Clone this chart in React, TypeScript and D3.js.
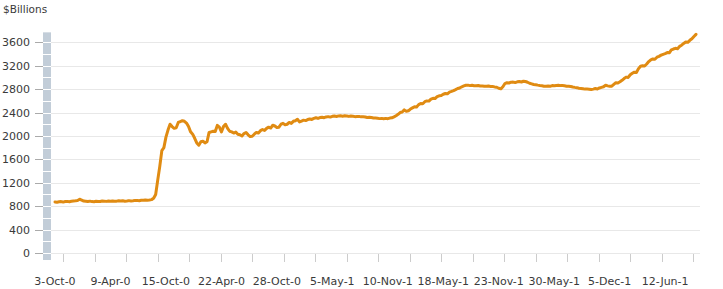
import React from "react";
import * as d3 from "d3";

const W = 723;
const H = 289;

// Weekly values ($ billions), 3-Oct-07 onward, one block per labelled 27-week period
const period07 = [872, 868, 875, 878, 870, 880, 882, 876, 885, 890, 893, 898, 918, 905, 888, 884, 880, 886, 878, 876, 884, 882, 879, 887, 886, 882, 888];
const period08a = [885, 890, 884, 886, 892, 887, 891, 886, 890, 895, 890, 894, 899, 899, 894, 902, 900, 906, 903, 905, 912, 935, 1000, 1245, 1480, 1750, 1800];
const period08b = [1980, 2100, 2200, 2160, 2130, 2140, 2230, 2245, 2260, 2250, 2220, 2160, 2070, 2030, 1960, 1880, 1843, 1900, 1910, 1880, 1900, 2060, 2070, 2080, 2075, 2180, 2150];
const period09a = [2070, 2160, 2200, 2130, 2080, 2070, 2050, 2065, 2030, 2020, 2000, 2040, 2060, 2020, 1990, 1995, 2030, 2060, 2050, 2090, 2110, 2095, 2130, 2150, 2135, 2183, 2170];
const period09b = [2145, 2150, 2200, 2215, 2190, 2200, 2230, 2215, 2250, 2260, 2285, 2240, 2255, 2270, 2262, 2280, 2290, 2282, 2300, 2310, 2300, 2315, 2320, 2312, 2325, 2330, 2322];
const period10a = [2335, 2340, 2332, 2342, 2345, 2338, 2345, 2342, 2334, 2340, 2336, 2330, 2332, 2334, 2326, 2328, 2325, 2316, 2318, 2315, 2306, 2305, 2302, 2296, 2300, 2294, 2300];
const period10b = [2295, 2305, 2310, 2325, 2345, 2370, 2400, 2410, 2445, 2420, 2430, 2460, 2480, 2500, 2495, 2535, 2555, 2550, 2585, 2598, 2595, 2628, 2642, 2640, 2670, 2685, 2690];
const period11a = [2712, 2725, 2720, 2750, 2762, 2775, 2792, 2810, 2820, 2840, 2855, 2866, 2868, 2860, 2865, 2858, 2858, 2862, 2854, 2855, 2850, 2850, 2853, 2846, 2845, 2838, 2832];
const period11b = [2815, 2805, 2840, 2895, 2910, 2905, 2918, 2920, 2912, 2925, 2930, 2922, 2935, 2930, 2918, 2900, 2890, 2880, 2875, 2868, 2862, 2858, 2850, 2850, 2852, 2848, 2860];
const period12a = [2858, 2863, 2866, 2860, 2860, 2858, 2850, 2850, 2845, 2836, 2830, 2825, 2815, 2812, 2806, 2800, 2800, 2798, 2792, 2800, 2810, 2802, 2820, 2830, 2840, 2866, 2855];
const period12b = [2848, 2850, 2880, 2910, 2905, 2925, 2950, 2980, 3005, 3000, 3045, 3070, 3090, 3085, 3150, 3190, 3200, 3195, 3230, 3270, 3300, 3315, 3310, 3345, 3360, 3380, 3395];
const period13 = [3407, 3425, 3420, 3470, 3485, 3497, 3490, 3530, 3550, 3580, 3605, 3600, 3634, 3660, 3700, 3736];

const values: number[] = [
  ...period07, ...period08a, ...period08b, ...period09a, ...period09b, ...period10a,
  ...period10b, ...period11a, ...period11b, ...period12a, ...period12b, ...period13,
];

const tickLabels = ["3-Oct-0", "9-Apr-0", "15-Oct-0", "22-Apr-0", "28-Oct-0", "5-May-1", "10-Nov-1", "18-May-1", "23-Nov-1", "30-May-1", "5-Dec-1", "12-Jun-1"];
const labelEvery = 27;
const yTicks = [0, 400, 800, 1200, 1600, 2000, 2400, 2800, 3200, 3600];
const barMinorTicks = d3.range(0, 3800, 200);
const xMinorStep = 15.33;
const xMinorStart = 4;

const FONT = "'DejaVu Sans', Verdana, sans-serif";

export default function App() {
  const x = d3.scaleLinear().domain([0, values.length - 1]).range([55, 696]);
  const y = d3.scaleLinear().domain([0, 3600]).range([253, 42.3]);
  const line = d3
    .line<number>()
    .x((_, i) => x(i))
    .y((d) => y(d));

  const xMinor = d3.range(xMinorStart, values.length, xMinorStep);
  const barTop = y(3770);
  const barBottom = 260;

  return (
    <div style={{ position: "fixed", left: 0, top: 0 }}>
      <svg width={W} height={H} style={{ display: "block", background: "#fff" }}>
        <text x={3} y={13} fontFamily={FONT} fontSize={10.5} fill="#3a3a3a">$Billions</text>
        {yTicks.map((t) => (
          <line key={"g" + t} x1={51} x2={700} y1={Math.round(y(t)) + 0.5} y2={Math.round(y(t)) + 0.5} stroke="#e8e8e8" strokeWidth={1} />
        ))}
        <rect x={43} y={barTop} width={8} height={barBottom - barTop} fill="#c2cdd8" />
        {barMinorTicks.map((t) => (
          <line key={"m" + t} x1={43} x2={51} y1={Math.round(y(t)) + 0.5} y2={Math.round(y(t)) + 0.5} stroke="#fff" strokeWidth={1} />
        ))}
        {yTicks.map((t) => (
          <g key={"y" + t}>
            <line x1={35} x2={43} y1={Math.round(y(t)) + 0.5} y2={Math.round(y(t)) + 0.5} stroke="#aaa" strokeWidth={1} />
            <text x={30} y={y(t) + 4} textAnchor="end" fontFamily={FONT} fontSize={11} fill="#3a3a3a">{t}</text>
          </g>
        ))}
        {xMinor.map((i) => (
          <line key={"xt" + i} x1={Math.round(x(i)) + 0.5} x2={Math.round(x(i)) + 0.5} y1={254} y2={262} stroke="#ccc" strokeWidth={1} />
        ))}
        {tickLabels.map((lab, k) => (
          <text key={"xl" + k} x={x(k * labelEvery)} y={285} textAnchor="middle" fontFamily={FONT} fontSize={11} fill="#3a3a3a">{lab}</text>
        ))}
        <path d={line(values) || ""} fill="none" stroke="#e08b12" strokeWidth={3} strokeLinejoin="round" strokeLinecap="round" />
      </svg>
    </div>
  );
}
